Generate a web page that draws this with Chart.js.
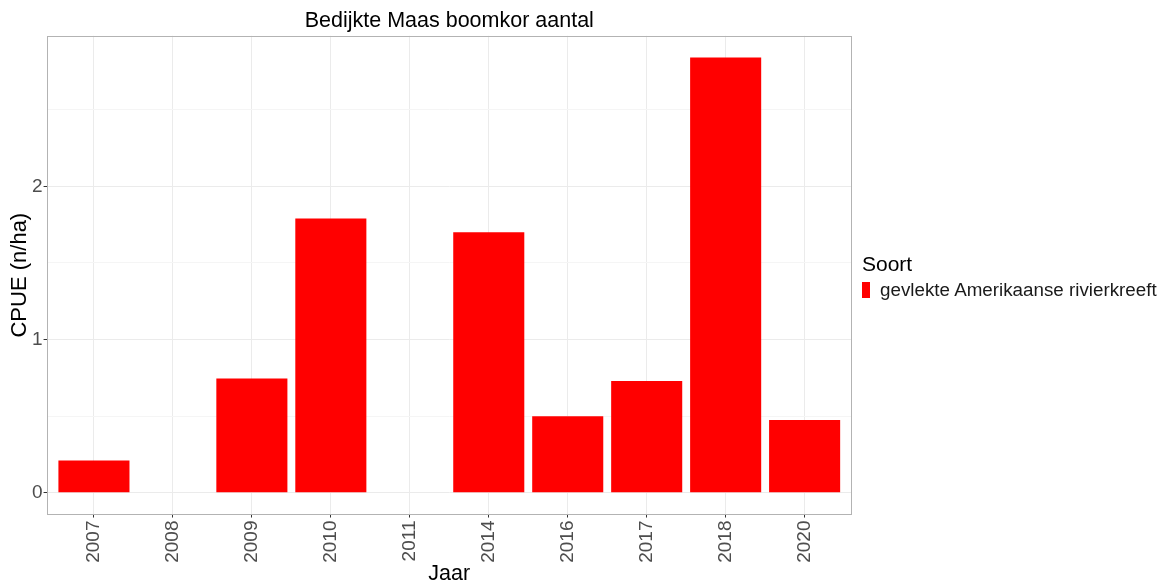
<!DOCTYPE html>
<html>
<head>
<meta charset="utf-8">
<script src="https://cdn.jsdelivr.net/npm/chart.js@4.4.1/dist/chart.umd.min.js"></script>
<style>
  html, body { margin: 0; padding: 0; background: #ffffff; }
  #wrap { position: relative; width: 1161px; height: 583px; }
  #chartBox { position: absolute; left: 0; top: 0; width: 1161px; height: 583px; }
  .lg { position: absolute; font-family: 'Liberation Sans', Arial, sans-serif; white-space: nowrap; }
  #lgTitle { left: 862px; top: 253px; font-size: 21px; line-height: 21px; color: #000; }
  #lgBox { left: 862px; top: 282px; width: 8px; height: 16px; }
  #lgText { left: 880px; top: 281px; font-size: 18.8px; line-height: 18.8px; color: #1a1a1a; }
</style>
</head>
<body>
<div id="wrap">
  <div id="chartBox"><canvas id="c"></canvas></div>
  <div class="lg" id="lgTitle"></div>
  <div class="lg" id="lgBox"></div>
  <div class="lg" id="lgText"></div>
</div>
<script>
const years = ['2007', '2008', '2009', '2010', '2011', '2014', '2016', '2017', '2018', '2020'];
const cpue = [0.21, 0, 0.745, 1.79, 0, 1.70, 0.50, 0.73, 2.84, 0.475];
const yTicks = [0, 0.5, 1, 1.5, 2, 2.5];
const yLabelTicks = [0, 1, 2];
const seriesName = 'gevlekte Amerikaanse rivierkreeft';
const seriesColor = '#ff0000';
const legendTitle = 'Soort';
const chartTitle = 'Bedijkte Maas boomkor aantal';
const xTitle = 'Jaar';
const yTitle = 'CPUE (n/ha)';

const FONT = "'Liberation Sans', Arial, sans-serif";
const yMaxData = Math.max(...cpue);

const panelBorder = {
  id: 'panelBorder',
  afterDraw(chart) {
    const a = chart.chartArea, ctx = chart.ctx;
    ctx.save();
    ctx.strokeStyle = '#b3b3b3';
    ctx.lineWidth = 1;
    ctx.strokeRect(Math.round(a.left) + 0.5, Math.round(a.top) + 0.5,
                   Math.round(a.right - a.left) - 1, Math.round(a.bottom - a.top) - 1);
    ctx.restore();
  }
};

const isMajor = v => yLabelTicks.includes(v);

const chart = new Chart(document.getElementById('c'), {
  type: 'bar',
  data: {
    datasets: [{
      label: seriesName,
      data: years.map((y, i) => ({ x: i, y: cpue[i] })),
      backgroundColor: seriesColor,
      borderWidth: 0,
      barPercentage: 0.9,
      categoryPercentage: 1.0
    }]
  },
  options: {
    responsive: true,
    maintainAspectRatio: false,
    animation: false,
    layout: { padding: { left: 9, right: 309, top: 0, bottom: 0 } },
    plugins: {
      title: {
        display: true,
        text: chartTitle,
        fullSize: false,
        color: '#000000',
        font: { family: FONT, size: 21.5, weight: 'normal' },
        padding: { top: 8, bottom: 2 }
      },
      legend: { display: false },
      tooltip: { enabled: false }
    },
    scales: {
      x: {
        type: 'linear',
        min: -0.6,
        max: years.length - 1 + 0.6,
        offset: false,
        afterBuildTicks: s => { s.ticks = years.map((y, i) => ({ value: i })); },
        ticks: {
          autoSkip: false,
          minRotation: 90,
          maxRotation: 90,
          color: '#4d4d4d',
          font: { family: FONT, size: 19 },
          padding: 3,
          callback: v => years[v]
        },
        grid: {
          offset: false,
          color: '#ebebeb',
          tickColor: '#333333',
          tickLength: 3,
          drawTicks: true
        },
        border: { display: false },
        title: {
          display: true,
          text: xTitle,
          color: '#000000',
          font: { family: FONT, size: 21.5, lineHeight: 0.8 },
          padding: { top: 0, bottom: 0 }
        }
      },
      y: {
        type: 'linear',
        min: -0.05 * yMaxData,
        max: 1.05 * yMaxData,
        afterBuildTicks: s => { s.ticks = yTicks.map(v => ({ value: v })); },
        ticks: {
          autoSkip: false,
          color: '#4d4d4d',
          font: { family: FONT, size: 19 },
          padding: 1,
          callback: v => isMajor(v) ? String(v) : ''
        },
        grid: {
          offset: false,
          color: ctx => (ctx.tick && isMajor(ctx.tick.value)) ? '#ebebeb' : '#f5f5f5',
          tickColor: ctx => (ctx.tick && isMajor(ctx.tick.value)) ? '#333333' : 'rgba(0,0,0,0)',
          tickLength: 3,
          drawTicks: true
        },
        border: { display: false },
        title: {
          display: true,
          text: yTitle,
          color: '#000000',
          font: { family: FONT, size: 22, lineHeight: 1.0 },
          padding: { top: 0, bottom: 0 }
        }
      }
    }
  },
  plugins: [panelBorder]
});

document.getElementById('lgTitle').textContent = legendTitle;
document.getElementById('lgBox').style.background = chart.data.datasets[0].backgroundColor;
document.getElementById('lgText').textContent = chart.data.datasets[0].label;
</script>
</body>
</html>
